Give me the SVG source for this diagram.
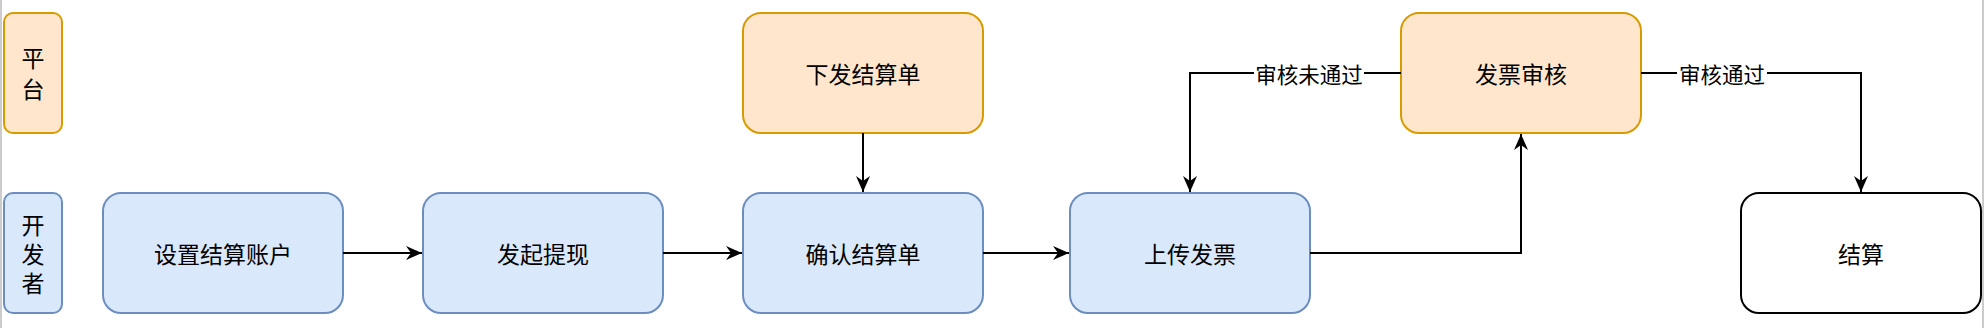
<svg xmlns="http://www.w3.org/2000/svg" width="1984" height="328" viewBox="0 0 1984 328">
<defs>
<marker id="arr" markerUnits="userSpaceOnUse" markerWidth="20" markerHeight="16" viewBox="-16 -8 20 16" refX="0" refY="0" orient="auto">
<path d="M0,0 L-16,-7 L-11,0 L-16,7 Z" fill="#000"/>
</marker>
</defs>
<style>
text{font-family:"Noto Sans CJK SC","Noto Sans",sans-serif;font-size:23px;fill:#000;text-anchor:middle;dominant-baseline:central}
.lbl{font-size:21.5px}
.plat{fill:#ffe6cc;stroke:#d79b00;stroke-width:2}
.dev{fill:#dae8fc;stroke:#6c8ebf;stroke-width:2}
.plain{fill:#fff;stroke:#000;stroke-width:2}
.edge{fill:none;stroke:#000;stroke-width:2}
</style>
<rect x="0" y="0" width="1984" height="328" fill="#fff"/>
<rect x="0" y="0" width="2" height="328" fill="#cccccc"/>
<rect x="1982" y="0" width="2" height="328" fill="#cccccc"/>
<g id="lane-platform"><rect class="plat" x="4" y="13" width="58" height="120" rx="9"/><text x="33" y="57">平<tspan x="33" dy="31">台</tspan></text></g>
<g id="lane-dev"><rect class="dev" x="4" y="193" width="58" height="120" rx="9"/><text x="33" y="224">开<tspan x="33" dy="29">发</tspan><tspan x="33" dy="29">者</tspan></text></g>
<g id="n1"><rect class="dev" x="103" y="193" width="240" height="120" rx="18"/><text x="223" y="253">设置结算账户</text></g>
<g id="n2"><rect class="dev" x="423" y="193" width="240" height="120" rx="18"/><text x="543" y="253">发起提现</text></g>
<g id="n3"><rect class="dev" x="743" y="193" width="240" height="120" rx="18"/><text x="863" y="253">确认结算单</text></g>
<g id="n4"><rect class="plat" x="743" y="13" width="240" height="120" rx="18"/><text x="863" y="73">下发结算单</text></g>
<g id="n5"><rect class="dev" x="1070" y="193" width="240" height="120" rx="18"/><text x="1190" y="253">上传发票</text></g>
<g id="n6"><rect class="plat" x="1401" y="13" width="240" height="120" rx="18"/><text x="1521" y="73">发票审核</text></g>
<g id="n7"><rect class="plain" x="1741" y="193" width="240" height="120" rx="18"/><text x="1861" y="253">结算</text></g>
<g id="edges">
<path class="edge" d="M343,253 H422" marker-end="url(#arr)"/>
<path class="edge" d="M663,253 H742" marker-end="url(#arr)"/>
<path class="edge" d="M983,253 H1069" marker-end="url(#arr)"/>
<path class="edge" d="M863,133 V192" marker-end="url(#arr)"/>
<path class="edge" d="M1310,253 H1521 V134" marker-end="url(#arr)"/>
<path class="edge" d="M1401,73 H1190 V192" marker-end="url(#arr)"/>
<path class="edge" d="M1641,73 H1861 V192" marker-end="url(#arr)"/>
<rect x="1254" y="60" width="110" height="26" fill="#fff"/>
<text class="lbl" x="1309" y="73">审核未通过</text>
<rect x="1677" y="60" width="90" height="26" fill="#fff"/>
<text class="lbl" x="1722" y="73">审核通过</text>
</g>
</svg>
